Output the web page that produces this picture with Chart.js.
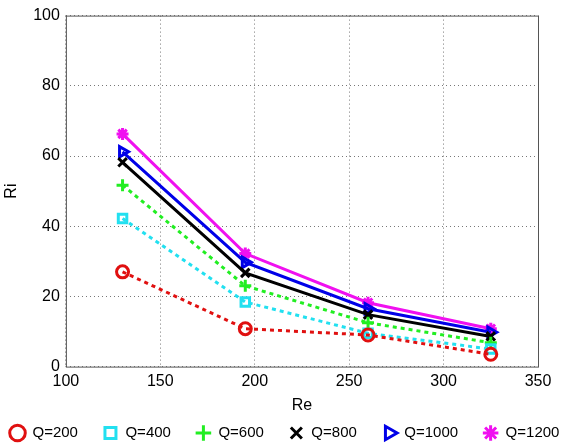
<!DOCTYPE html>
<html>
<head>
<meta charset="utf-8">
<script src="https://cdn.jsdelivr.net/npm/chart.js@4/dist/chart.umd.min.js"></script>
<style>
  html, body { margin: 0; padding: 0; background: #fff; }
  #wrap { width: 573px; height: 448px; }
</style>
</head>
<body>
<div id="wrap"><canvas id="chart"></canvas></div>
<script>
// データ
const reValues = [130, 195, 260, 325];
const labels = ['Q=200', 'Q=400', 'Q=600', 'Q=800', 'Q=1000', 'Q=1200'];
const q200 = [27, 10.8, 9, 3.5];
const q400 = [42.2, 18.4, 9.5, 5];
const q600 = [51.7, 23, 12.5, 6.8];
const q800 = [58.2, 26.7, 14.8, 8.6];
const q1000 = [61.2, 29.7, 16.5, 9.8];
const q1200 = [66.3, 32.2, 18.2, 10.8];
const xTicks = [100, 150, 200, 250, 300, 350];
const yTicks = [0, 20, 40, 60, 80, 100];

const FONT = 'Liberation Sans, Arial, sans-serif';

function pts(values) {
    return values.map((v, i) => ({ x: reValues[i], y: v }));
}

// 枠線を描くプラグイン
const frame = {
    id: 'frame',
    afterDraw(chart) {
        const a = chart.chartArea;
        const ctx = chart.ctx;
        ctx.save();
        ctx.strokeStyle = '#555';
        ctx.lineWidth = 1;
        ctx.strokeRect(a.left + 0.5, a.top + 0.5, a.right - a.left, a.bottom - a.top);
        ctx.restore();
    }
};

// 凡例を1行に収めて位置を調整する
const legendTweak = {
    id: 'legendTweak',
    beforeUpdate(chart) {
        const lg = chart.legend;
        if (!lg || lg._tweaked) return;
        const fitRows = lg._fitRows;
        lg._fitRows = function(...args) {
            const mw = this.maxWidth;
            this.maxWidth = 10000;
            const h = fitRows.apply(this, args);
            this.maxWidth = mw;
            return h;
        };
        const fit = lg.fit;
        lg.fit = function() {
            fit.call(this);
            this.height = 48;
        };
        const draw = lg.draw;
        lg.draw = function() {
            const r = this.right;
            this.right = 10000;
            this.ctx.save();
            this.ctx.translate(-17, -14.5);
            draw.call(this);
            this.ctx.restore();
            this.right = r;
        };
        lg._tweaked = true;
    }
};

function series(label, data, color, style, dashed, rot) {
    return {
        label: label,
        data: pts(data),
        borderColor: color,
        backgroundColor: style === 'star' ? color : 'rgba(255,255,255,0)',
        borderWidth: 3,
        borderDash: dashed ? [4, 4] : [],
        pointStyle: style,
        pointRotation: rot || 0,
        pointRadius: 6,
        pointBorderWidth: 3,
        pointBackgroundColor: style === 'star' ? color : 'rgba(255,255,255,0)',
        tension: 0
    };
}

new Chart(document.getElementById('chart'), {
    type: 'line',
    data: {
        datasets: [
            series(labels[0], q200, '#e01010', 'circle', true),
            series(labels[1], q400, '#22e0f0', 'rect', true),
            series(labels[2], q600, '#22ee22', 'cross', true),
            series(labels[3], q800, '#000000', 'crossRot', false),
            series(labels[4], q1000, '#0000e8', 'triangle', false, 90),
            series(labels[5], q1200, '#f010f0', 'star', false)
        ]
    },
    options: {
        responsive: true,
        maintainAspectRatio: false,
        animation: false,
        layout: { padding: { left: 2, right: 0, top: 8, bottom: -15 } },
        plugins: {
            legend: {
                position: 'bottom',
                align: 'start',
                labels: {
                    usePointStyle: true,
                    boxHeight: 11,
                    padding: 25,
                    color: '#000',
                    font: { family: FONT, size: 15 }
                }
            },
            tooltip: { enabled: false }
        },
        scales: {
            x: {
                type: 'linear',
                min: 100,
                max: 350,
                afterBuildTicks: (axis) => { axis.ticks = xTicks.map(v => ({ value: v })); },
                title: { display: true, text: 'Re', color: '#000', font: { family: FONT, size: 16 }, padding: { top: 0, bottom: 0 } },
                ticks: { color: '#000', font: { family: FONT, size: 16 }, maxRotation: 0, padding: 5 },
                grid: { color: '#777', lineWidth: 1, tickLength: 0 },
                border: { display: false, dash: [1, 3] }
            },
            y: {
                min: 0,
                max: 100,
                afterBuildTicks: (axis) => { axis.ticks = yTicks.map(v => ({ value: v })); },
                title: { display: true, text: 'Ri', color: '#000', font: { family: FONT, size: 16 }, padding: { top: 0, bottom: 6 } },
                ticks: { color: '#000', font: { family: FONT, size: 16 }, padding: 6 },
                grid: { color: '#777', lineWidth: 1, tickLength: 0 },
                border: { display: false, dash: [1, 3] }
            },
            yr: {
                position: 'right',
                display: true,
                grid: { display: false },
                ticks: { display: false },
                border: { display: false },
                afterFit: (s) => { s.width = 35; }
            }
        }
    },
    plugins: [frame, legendTweak]
});
</script>
</body>
</html>
